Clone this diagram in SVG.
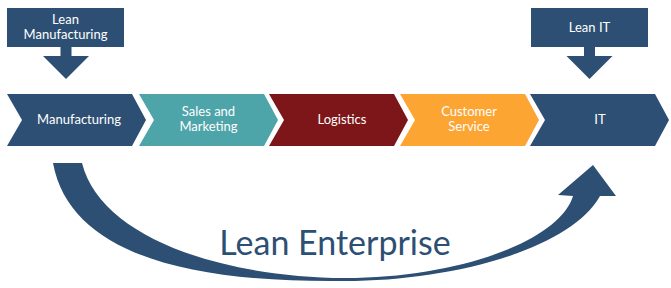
<svg xmlns="http://www.w3.org/2000/svg" width="671" height="288" viewBox="0 0 671 288">
  <style>
    .navy { fill: #2E4F74; }
    .lbl { font-family: Lato, "Open Sans", "Liberation Sans", sans-serif; font-size: 13px; fill: #FFFFFF; text-anchor: middle; }
    .big { font-family: Lato, "Open Sans", "Liberation Sans", sans-serif; font-size: 34px; fill: #2E4F74; text-anchor: middle; }
  </style>
  <defs>
    <polygon id="chev" points="0,94 125,94 139,120 125,146 0,146 15,120"/>
    <polygon id="downArrow" points="-5.5,45 5.5,45 5.5,56 23,56 0,79 -23,56 -5.5,56"/>
  </defs>
  <rect width="671" height="288" fill="#FFFFFF"/>

  <g id="lean-manufacturing">
    <rect class="navy" x="7" y="8" width="117" height="39"/>
    <use href="#downArrow" class="navy" x="66"/>
    <text class="lbl" x="65.5" y="24">Lean</text>
    <text class="lbl" x="65.5" y="39">Manufacturing</text>
  </g>

  <g id="lean-it">
    <rect class="navy" x="531" y="8" width="117" height="39"/>
    <use href="#downArrow" class="navy" x="589.5"/>
    <text class="lbl" x="589.5" y="32">Lean IT</text>
  </g>

  <g id="manufacturing">
    <use href="#chev" x="7" fill="#2E4F74"/>
    <text class="lbl" x="79" y="124">Manufacturing</text>
  </g>
  <g id="sales-marketing">
    <use href="#chev" x="139" fill="#4DA4A9"/>
    <text class="lbl" x="208.5" y="116">Sales and</text>
    <text class="lbl" x="208.5" y="131">Marketing</text>
  </g>
  <g id="logistics">
    <use href="#chev" x="269" fill="#7D1619"/>
    <text class="lbl" x="342" y="124">Logistics</text>
  </g>
  <g id="customer-service">
    <use href="#chev" x="400" fill="#FCA532"/>
    <text class="lbl" x="469" y="116" fill="#FFF6E6">Customer</text>
    <text class="lbl" x="469" y="131" fill="#FFF6E6">Service</text>
  </g>
  <g id="it">
    <use href="#chev" x="530" fill="#2E4F74"/>
    <text class="lbl" x="600" y="124">IT</text>
  </g>

  <g id="connectors">
    <path class="navy" d="M 53,163 C 70,255 190,283 345,281 C 450,281 570,250 600,196 L 616,196 L 593,165 L 558,195 L 573,196 C 560,240 460,278 345,278 C 215,277 100,235 82,163 Z"/>
  </g>

  <g id="title">
    <text class="big" x="335" y="255">Lean Enterprise</text>
  </g>
</svg>
